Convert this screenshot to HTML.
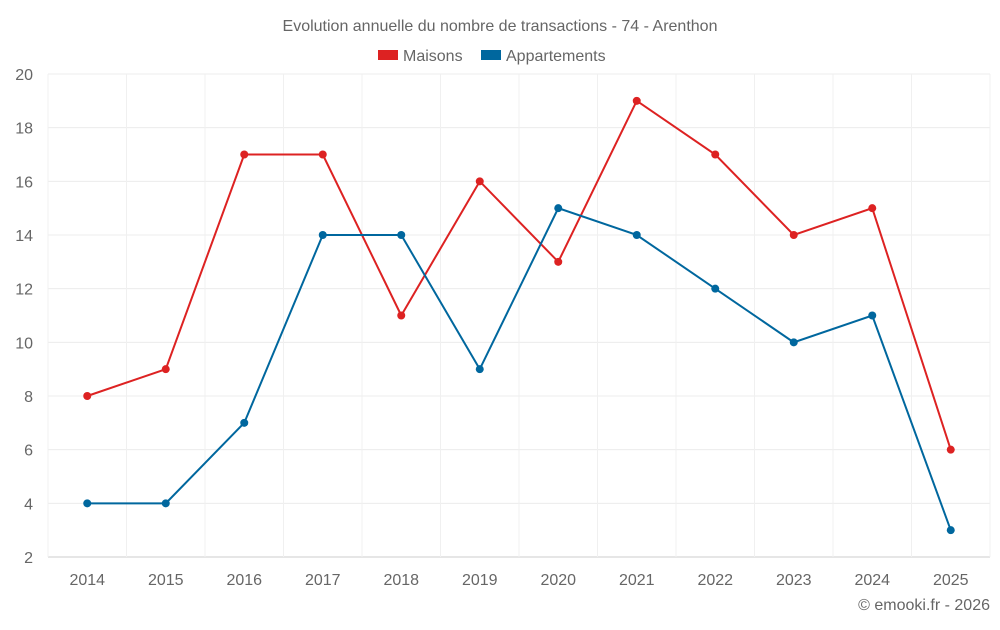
<!DOCTYPE html>
<html><head><meta charset="utf-8"><style>
body{margin:0;background:#fff;font-family:"Liberation Sans",sans-serif;}
svg text{font-family:"Liberation Sans",sans-serif;fill:#666;}
</style></head><body>
<svg id="c" width="1000" height="625">
<text x="500" y="31" text-anchor="middle" font-size="16">Evolution annuelle du nombre de transactions - 74 - Arenthon</text>
<g>
<rect x="378" y="50" width="20" height="10" fill="#dd2222"/>
<text x="403" y="61" font-size="16">Maisons</text>
<rect x="481" y="50" width="20" height="10" fill="#00679e"/>
<text x="506" y="61" font-size="16">Appartements</text>
</g>
<g id="grid"></g><g id="axes"></g><g id="series"></g>
<text x="990" y="610" text-anchor="end" font-size="16">© emooki.fr - 2026</text>
</svg>
<script>
const years=[2014,2015,2016,2017,2018,2019,2020,2021,2022,2023,2024,2025];
const maisons=[8,9,17,17,11,16,13,19,17,14,15,6];
const appartements=[4,4,7,14,14,9,15,14,12,10,11,3];
const yTicks=[2,4,6,8,10,12,14,16,18,20];
const L=48,R=990,T=74,B=557,yMin=2,yMax=20;
const step=(R-L)/years.length;
const x=i=>L+step*(i+0.5);
const y=v=>B-(v-yMin)/(yMax-yMin)*(B-T);
const NS="http://www.w3.org/2000/svg";
function mk(tag,attrs,parent){const e=document.createElementNS(NS,tag);for(const k in attrs)e.setAttribute(k,attrs[k]);parent.appendChild(e);return e;}
const grid=document.getElementById('grid'),axes=document.getElementById('axes'),ser=document.getElementById('series');
yTicks.forEach(v=>{
  const l=mk('line',{x1:L,x2:R,y1:y(v),y2:y(v),stroke:v===yMin?'#ccc':'#ececec'},grid);
  
  
  const t=mk('text',{x:33,y:y(v)+6,'text-anchor':'end','font-size':16},axes);
  t.textContent=v;
  
  
});
for(let i=0;i<=years.length;i++){
  const l=mk('line',{x1:L+step*i,x2:L+step*i,y1:T,y2:B,stroke:'#f0f0f0'},grid);
  
  
}
years.forEach((yr,i)=>{
  const t=mk('text',{x:x(i),y:585,'text-anchor':'middle','font-size':16},axes);
  t.textContent=yr;
  
  
});
function draw(vals,color,name){
  const p=mk('polyline',{points:vals.map((v,i)=>x(i)+','+y(v)).join(' '),fill:'none',stroke:color,'stroke-width':2},ser);
  
  
  vals.forEach((v,i)=>{
    const c=mk('circle',{cx:x(i),cy:y(v),r:4,fill:color},ser);
    
    
  });
}
draw(maisons,'#dd2222','maisons');
draw(appartements,'#00679e','appartements');
</script>
</body></html>
